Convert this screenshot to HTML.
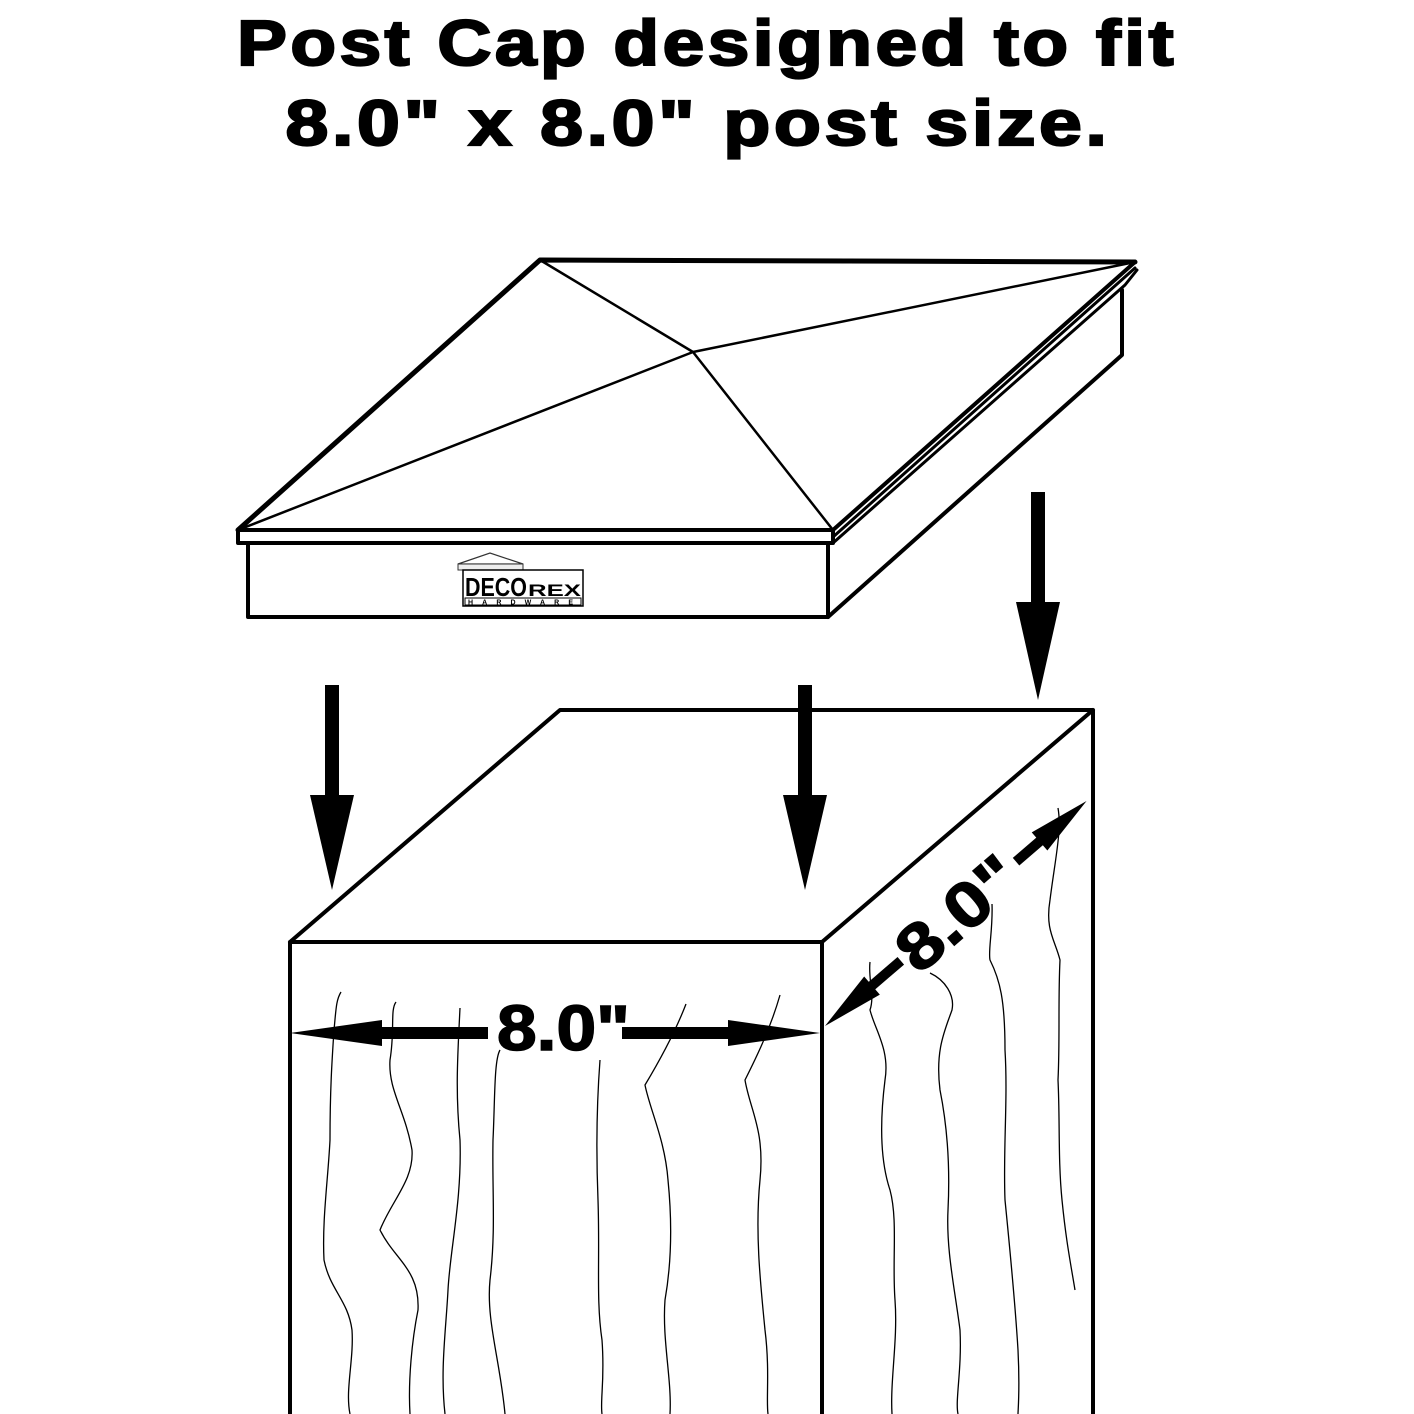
<!DOCTYPE html>
<html><head><style>
html,body{margin:0;padding:0;background:#fff;}
svg{display:block;}
text{font-family:"Liberation Sans",Arial,sans-serif;font-weight:bold;}
</style></head><body>
<svg width="1414" height="1414" viewBox="0 0 1414 1414" xmlns="http://www.w3.org/2000/svg">
<rect width="1414" height="1414" fill="#fff"/>
<text x="707" y="65" font-size="64" text-anchor="middle" letter-spacing="3" textLength="940" lengthAdjust="spacingAndGlyphs" stroke="#000" stroke-width="2.2">Post Cap designed to fit</text>
<text x="698" y="145" font-size="64" text-anchor="middle" letter-spacing="3" textLength="825" lengthAdjust="spacingAndGlyphs" stroke="#000" stroke-width="2.2">8.0" x 8.0" post size.</text>

<g fill="none" stroke="#000" stroke-linejoin="round" stroke-linecap="round">
<path d="M238,530 L540,260 L1135,262" stroke-width="5"/>
<path d="M1135,262 L833,530" stroke-width="4"/>
<path d="M540,260 L693,352 L833,530 M238,530 L693,352 L1135,262" stroke-width="2.5"/>
<path d="M238,530 L833,530 M238,530 L238,543 L833,543 M833,530 L833,543" stroke-width="4"/>
<path d="M833,543 L1125,285 L1137,270 M833,537 L1135,268" stroke-width="3"/>
<path d="M248,543 L248,617 L828,617 L828,543" stroke-width="4"/>
<path d="M828,617 L1122,355 L1122,290" stroke-width="4"/>
<path d="M290,1414 L290,942 L822,942 L822,1414 M290,942 L560,710 L1093,710 L1093,1414 M822,942 L1093,710" stroke-width="4"/>
</g>

<g>
<path d="M458,564 L490,553 L523,564 Z" fill="#fff" stroke="#333" stroke-width="1.2"/>
<rect x="458" y="564" width="65" height="6" fill="#eee" stroke="#333" stroke-width="1"/>
<rect x="463" y="570" width="120" height="36" fill="#fff" stroke="#000" stroke-width="1.5"/>
<text x="465" y="596" font-size="26" textLength="62" lengthAdjust="spacingAndGlyphs">DECO</text>
<text x="528" y="596" font-size="17" textLength="53" lengthAdjust="spacingAndGlyphs">REX</text>
<rect x="465" y="598" width="116" height="7" fill="#fff" stroke="#000" stroke-width="1"/>
<text x="468" y="604.5" font-size="7" textLength="110" lengthAdjust="spacing" letter-spacing="5">HARDWARE</text>
</g>

<g fill="#000">
<rect x="325" y="685" width="14" height="112"/>
<polygon points="310,795 354,795 332,890"/>
<rect x="798" y="685" width="14" height="112"/>
<polygon points="783,795 827,795 805,890"/>
<rect x="1031" y="492" width="14" height="112"/>
<polygon points="1016,602 1060,602 1038,700"/>
</g>

<g fill="#000">
<rect x="370" y="1027" width="118" height="12"/>
<polygon points="290,1033 382,1020 382,1046"/>
<rect x="622" y="1027" width="114" height="12"/>
<polygon points="820,1033 728,1020 728,1046"/>
</g>
<text x="497" y="1050" font-size="64" textLength="133" lengthAdjust="spacingAndGlyphs" stroke="#000" stroke-width="1.5">8.0"</text>

<g transform="translate(825,1026) rotate(-40.7)">
<rect x="60" y="-5" width="40" height="10" fill="#000"/>
<polygon points="0,0 62,-12 62,12" fill="#000"/>
<rect x="252" y="-5" width="45" height="10" fill="#000"/>
<polygon points="345,0 283,-12 283,12" fill="#000"/>
<text x="104" y="23" font-size="64" textLength="140" lengthAdjust="spacingAndGlyphs" stroke="#000" stroke-width="1.5">8.0"</text>
</g>

<g fill="none" stroke="#000" stroke-width="1.3">
<path d="M341,992 C336,1000 336,1010 334,1030 C332,1060 330,1090 330,1140 C328,1180 322,1220 324,1260 C330,1290 348,1300 352,1330 C354,1360 345,1390 350,1414"/>
<path d="M396,1002 C390,1010 395,1030 390,1060 C388,1090 405,1110 412,1150 C414,1180 392,1200 380,1230 C395,1260 420,1270 418,1310 C412,1340 408,1380 410,1414"/>
<path d="M460,1008 C458,1050 455,1090 460,1140 C462,1200 450,1250 448,1290 C446,1330 440,1370 445,1414"/>
<path d="M500,1050 C494,1060 495,1100 493,1140 C492,1190 496,1230 490,1280 C486,1320 500,1360 505,1414"/>
<path d="M600,1060 C597,1100 596,1150 598,1200 C600,1260 596,1300 602,1340 C605,1380 600,1400 602,1414"/>
<path d="M686,1004 C676,1030 660,1060 645,1085 C650,1110 665,1140 668,1180 C672,1220 672,1260 665,1300 C662,1340 672,1380 670,1414"/>
<path d="M780,995 C770,1030 755,1060 745,1080 C750,1110 765,1130 760,1180 C755,1230 760,1280 765,1330 C770,1370 766,1400 768,1414"/>
<path d="M870,962 C868,980 875,995 870,1010 C875,1030 890,1050 885,1080 C880,1120 880,1160 890,1190 C898,1220 892,1260 895,1300 C898,1340 890,1380 892,1414"/>
<path d="M930,973 C945,980 955,995 952,1010 C945,1030 935,1050 940,1090 C948,1130 950,1170 948,1210 C946,1250 955,1290 960,1330 C962,1370 955,1400 958,1414"/>
<path d="M992,904 C993,930 988,950 990,960 C1000,980 1005,1000 1005,1050 C1008,1100 1003,1150 1005,1200 C1010,1250 1015,1300 1018,1350 C1020,1390 1018,1410 1018,1414"/>
<path d="M1058,808 C1062,830 1055,860 1050,900 C1045,930 1055,940 1060,960 C1058,1000 1060,1040 1058,1080 C1060,1120 1058,1160 1062,1200 C1066,1240 1070,1260 1075,1290"/>
</g>
</svg>
</body></html>
